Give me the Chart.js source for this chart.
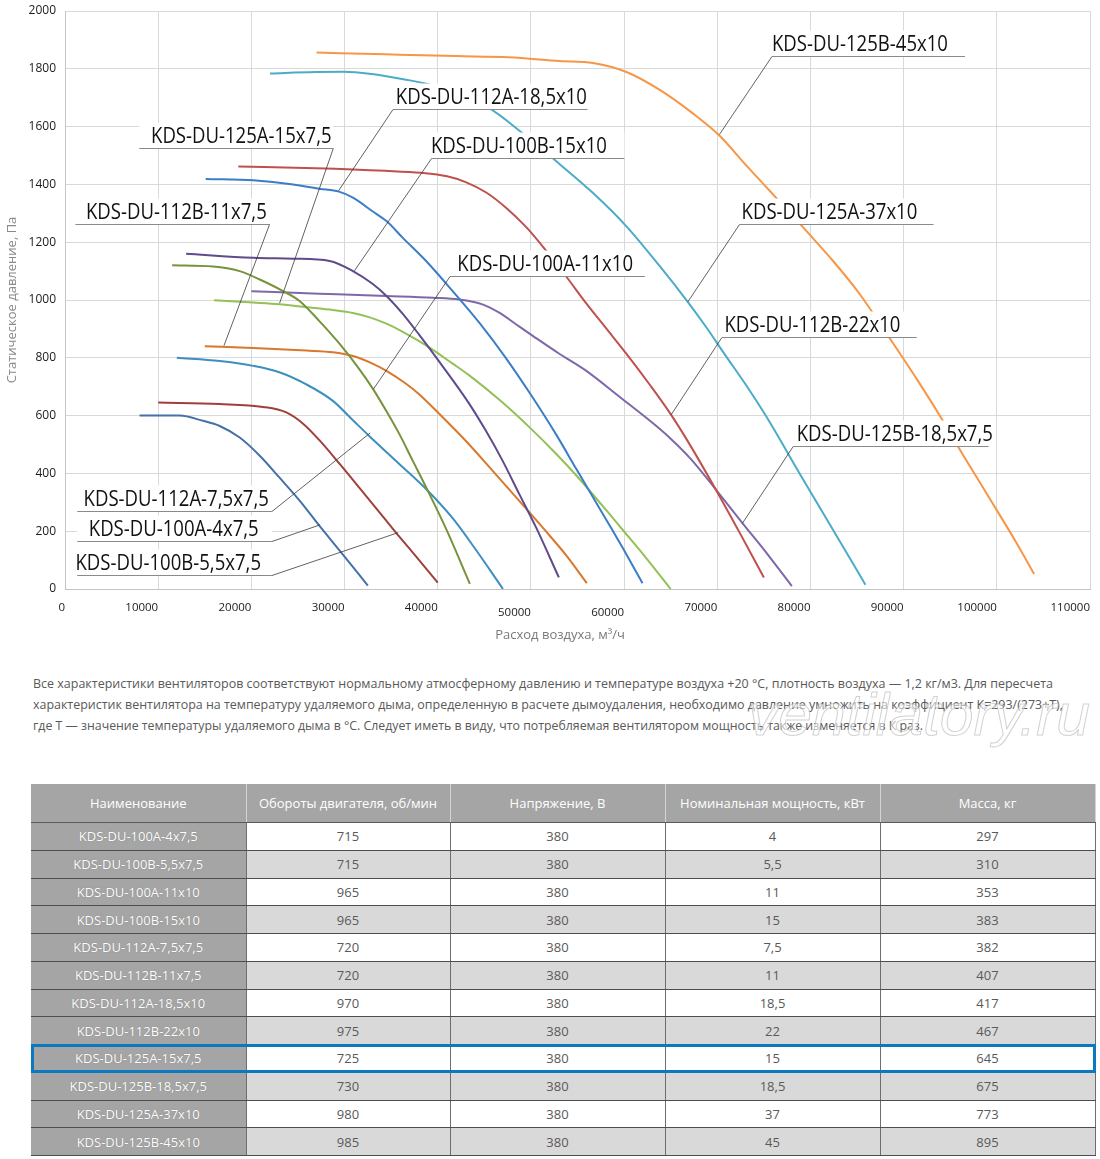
<!DOCTYPE html>
<html lang="ru">
<head>
<meta charset="utf-8">
<title>KDS-DU</title>
<script src="https://cdn.jsdelivr.net/npm/chart.js@4.4.1/dist/chart.umd.min.js"></script>
<style>
  html, body { margin: 0; padding: 0; background: #fff; }
  body { width: 1100px; height: 1159px; position: relative; overflow: hidden; font-family: "Open Sans", sans-serif; }
  #chart { position: absolute; left: 0; top: 0; }
  .note { position: absolute; left: 33px; display: inline-block; white-space: nowrap; font-size: 13px; line-height: 20px; color: #595959; transform-origin: 0 50%; }
  #mark { position: absolute; left: 748px; top: 685px; display: inline-block; white-space: nowrap; font: italic 60px/60px "Liberation Sans", sans-serif;
          color: rgba(255,255,255,0.55); -webkit-text-stroke: 1px rgba(165,165,165,0.5); transform-origin: 0 50%; }
  #specs { position: absolute; left: 31px; top: 784px; width: 1064px; border-collapse: collapse; table-layout: fixed; font-size: 13px; }
  #specs th { height: 38px; padding: 0; background: #a5a5a5; color: #fff; font-weight: 400; border-right: 1px solid #d4d4d4; border-bottom: 1px solid #5a5a5a; }
  #specs td { padding: 0; text-align: center; color: #595959; background: #fff; border-bottom: 1px solid #4d4d4d; border-right: 1px solid #6e6e6e; }
  #specs tr { height: 27.75px; }
  #specs tr.alt td { background: #d9d9d9; }
  #specs tr td.name, #specs tr.alt td.name { background: #a5a5a5; color: #fff; text-shadow: 0 0 1px rgba(0,0,0,0.3); }
  #hl { position: absolute; box-sizing: border-box; border: 3px solid #0b78c0; }
</style>
</head>
<body>
<canvas id="chart" width="1100" height="650"></canvas>

<div class="note" style="top:673px" data-w="1020">Все характеристики вентиляторов соответствуют нормальному атмосферному давлению и температуре воздуха +20 °С, плотность воздуха — 1,2 кг/м3. Для пересчета</div>
<div class="note" style="top:694px" data-w="1030">характеристик вентилятора на температуру удаляемого дыма, определенную в расчете дымоудаления, необходимо давление умножить на коэффициент К=293/(273+Т),</div>
<div class="note" style="top:715px" data-w="890">где Т — значение температуры удаляемого дыма в °С. Следует иметь в виду, что потребляемая вентилятором мощность также изменяется в К раз.</div>
<div id="mark">ventilatory.ru</div>

<table id="specs"></table>
<div id="hl"></div>

<script>
// models, same order as the table
const models = [
  'KDS-DU-100A-4x7,5', 'KDS-DU-100B-5,5x7,5', 'KDS-DU-100A-11x10', 'KDS-DU-100B-15x10',
  'KDS-DU-112A-7,5x7,5', 'KDS-DU-112B-11x7,5', 'KDS-DU-112A-18,5x10', 'KDS-DU-112B-22x10',
  'KDS-DU-125A-15x7,5', 'KDS-DU-125B-18,5x7,5', 'KDS-DU-125A-37x10', 'KDS-DU-125B-45x10'
];

// fan curves: air flow (m3/h) and static pressure (Pa)
const flow100A4 = [8000, 12300, 14800, 16600, 18750, 20900, 23000, 25200, 27250, 29500, 32500];
const pres100A4 = [600, 600, 582, 564, 524, 461, 386, 305, 221, 132, 12];

const flow100B55 = [10000, 16600, 21250, 23750, 25550, 27300, 29500, 31600, 33750, 35600, 38000, 40000];
const pres100B55 = [645, 640, 630, 611, 572, 515, 432, 350, 265, 192, 100, 22];

const flow100A11 = [11500, 15900, 18750, 20900, 23400, 25200, 27300, 29500, 31600, 33100, 34500, 35900, 37300, 38750, 40900, 43450];
const pres100A11 = [1120, 1116, 1100, 1071, 1031, 996, 927, 847, 760, 690, 615, 535, 445, 352, 208, 18];

const flow100B15 = [13000, 20200, 24500, 28400, 30900, 33000, 34500, 36250, 38000, 40200, 43300, 45140, 46940, 48740, 50540, 53000];
const pres100B15 = [1160, 1146, 1143, 1135, 1100, 1056, 1014, 952, 880, 785, 645, 549, 445, 329, 214, 40];

const flow112A75 = [12000, 16600, 20200, 23000, 25900, 28750, 30900, 32700, 35900, 38750, 41600, 44000, 47000];
const pres112A75 = [800, 789, 772, 750, 708, 651, 584, 528, 432, 346, 245, 140, 0];

const flow112B11 = [15000, 20200, 25900, 28750, 30900, 33000, 34500, 36600, 38000, 40200, 43000, 45900, 48750, 51600, 53750, 56000];
const pres112B11 = [840, 834, 825, 819, 806, 780, 755, 710, 674, 605, 513, 409, 305, 200, 118, 20];

const flow112A185 = [15100, 20200, 24500, 27300, 29400, 30900, 33000, 34500, 36250, 38750, 41600, 44500, 47300, 50000, 52700, 54860, 56650, 58450, 60000, 61980];
const pres112A185 = [1419, 1414, 1400, 1385, 1375, 1354, 1307, 1273, 1215, 1135, 1031, 920, 800, 672, 535, 416, 318, 220, 134, 20];

const flow112B22 = [18600, 26900, 34400, 38200, 41000, 43000, 45200, 47300, 49500, 51600, 53750, 55900, 58000, 60300, 62800, 65000, 67100, 70000, 72400, 75000];
const pres112B22 = [1462, 1456, 1447, 1440, 1428, 1408, 1372, 1320, 1252, 1172, 1083, 990, 905, 812, 705, 605, 497, 335, 195, 40];

const flow125A15 = [16000, 20200, 23000, 25900, 28750, 30900, 32700, 34500, 36250, 38750, 41600, 43350, 46900, 50000, 52700, 54900, 56650, 58450, 60000, 62050, 65000];
const pres125A15 = [999, 991, 985, 975, 965, 955, 940, 918, 890, 843, 780, 740, 647, 555, 468, 392, 327, 259, 199, 120, 0];

const flow125B185 = [20000, 27300, 34500, 39500, 42300, 44800, 46600, 48400, 50200, 53000, 55800, 59700, 63300, 65000, 67100, 70000, 72700, 75400, 78000];
const pres125B185 = [1030, 1022, 1014, 1008, 1002, 985, 956, 916, 876, 815, 758, 660, 568, 520, 452, 338, 228, 120, 10];

const flow125A37 = [22000, 26900, 29900, 32900, 36300, 39300, 45350, 49100, 53090, 56670, 60250, 63830, 66870, 68840, 70800, 73100, 75200, 78830, 82510, 85900];
const pres125A37 = [1784, 1789, 1790, 1782, 1764, 1744, 1667, 1577, 1470, 1370, 1255, 1117, 992, 905, 812, 705, 600, 400, 200, 15];

const flow125B45 = [27000, 34400, 42000, 47600, 53090, 56670, 60250, 63830, 67410, 70200, 73130, 75990, 77420, 79750, 82430, 85300, 88500, 91500, 94200, 95700, 99100, 102100, 104000];
const pres125B45 = [1856, 1850, 1844, 1840, 1827, 1820, 1789, 1727, 1645, 1570, 1465, 1365, 1315, 1232, 1135, 1020, 868, 722, 583, 500, 320, 160, 52];

const flows = [flow100A4, flow100B55, flow100A11, flow100B15, flow112A75, flow112B11, flow112A185, flow112B22, flow125A15, flow125B185, flow125A37, flow125B45];
const pressures = [pres100A4, pres100B55, pres100A11, pres100B15, pres112A75, pres112B11, pres112A185, pres112B22, pres125A15, pres125B185, pres125A37, pres125B45];

// table columns
const rpm = [715, 715, 965, 965, 720, 720, 970, 975, 725, 730, 980, 985];
const voltage = [380, 380, 380, 380, 380, 380, 380, 380, 380, 380, 380, 380];
const power = ['4', '5,5', '11', '15', '7,5', '11', '18,5', '22', '15', '18,5', '37', '45'];
const mass = [297, 310, 353, 383, 382, 407, 417, 467, 645, 675, 773, 895];
const headers = ['Наименование', 'Обороты двигателя, об/мин', 'Напряжение, В', 'Номинальная мощность, кВт', 'Масса, кг'];
const highlighted = 8;

const colors = ['#4671a8', '#a0403b', '#77933c', '#5f4b8b', '#3c8fbf', '#d9782d',
                '#3b7dc6', '#c0504d', '#93c155', '#7e68a8', '#4bacc6', '#f79646'];

// callout labels, in data units: text start, underline level and span, point on the curve
const callouts = [
  { m: 11, tx: 75870, uy: 1845, x1: 75870, x2: 96590, from: 'left',  px: 70240, py: 1573 },
  { m: 6,  tx: 35500, uy: 1661, x1: 35200, x2: 56070, from: 'left',  px: 29360, py: 1378 },
  { m: 8,  tx: 9230,  uy: 1527, x1: 7970,  x2: 28790, from: 'right', px: 23030, py: 989 },
  { m: 3,  tx: 39270, uy: 1491, x1: 39340, x2: 60030, from: 'left',  px: 31060, py: 1101 },
  { m: 5,  tx: 2250,  uy: 1263, x1: 1120,  x2: 21950, from: 'right', px: 17060, py: 842 },
  { m: 2,  tx: 42100, uy: 1083, x1: 41320, x2: 62240, from: 'left',  px: 33090, py: 691 },
  { m: 10, tx: 72610, uy: 1262, x1: 72390, x2: 93210, from: 'left',  px: 66850, py: 994 },
  { m: 7,  tx: 70770, uy: 873,  x1: 70500, x2: 91400, from: 'left',  px: 65030, py: 602 },
  { m: 9,  tx: 78520, uy: 496,  x1: 78150, x2: 99120, from: 'left',  px: 72690, py: 227 },
  { m: 4,  tx: 1990,  uy: 271,  x1: 1310,  x2: 22210, from: 'right', px: 32750, py: 540 },
  { m: 0,  tx: 2550,  uy: 167,  x1: 1310,  x2: 22210, from: 'right', px: 27370, py: 222 },
  { m: 1,  tx: 1120,  uy: 48,   x1: 1310,  x2: 22210, from: 'right', px: 35760, py: 195 }
];

const calloutPlugin = {
  id: 'callouts',
  afterDatasetsDraw(chart) {
    const { ctx, scales: { x, y } } = chart;
    ctx.save();
    ctx.font = '21px "Open Sans"';
    const squeeze = 176 / ctx.measureText('KDS-DU-125B-45x10').width;
    const items = callouts.map(c => ({
      text: models[c.m],
      tx: x.getPixelForValue(c.tx),
      uy: Math.round(y.getPixelForValue(c.uy)) + 0.5,
      x1: x.getPixelForValue(c.x1),
      x2: x.getPixelForValue(c.x2),
      from: c.from,
      px: x.getPixelForValue(c.px),
      py: y.getPixelForValue(c.py)
    }));

    // white boxes hide the grid and the curves behind the labels
    ctx.fillStyle = '#fff';
    items.forEach(it => {
      const left = Math.min(it.x1, it.tx);
      ctx.fillRect(left, it.uy - 26, it.x2 - left, 26);
    });

    ctx.fillStyle = '#111';
    ctx.textBaseline = 'alphabetic';
    items.forEach(it => {
      ctx.save();
      ctx.translate(it.tx, it.uy - 5.5);
      ctx.scale(squeeze, 1);
      ctx.fillText(it.text, 0, 0);
      ctx.restore();
    });

    ctx.strokeStyle = '#8a8a8a';
    ctx.lineWidth = 1;
    items.forEach(it => {
      ctx.beginPath();
      ctx.moveTo(it.x1, it.uy);
      ctx.lineTo(it.x2, it.uy);
      ctx.stroke();
    });

    ctx.strokeStyle = '#3a3a3a';
    ctx.lineWidth = 0.8;
    items.forEach(it => {
      ctx.beginPath();
      ctx.moveTo(it.from === 'left' ? it.x1 : it.x2, it.uy);
      ctx.lineTo(it.px, it.py);
      ctx.stroke();
    });

    // x axis title
    const area = chart.chartArea;
    ctx.fillStyle = '#7a7a7a';
    ctx.font = '13px "Open Sans"';
    ctx.textAlign = 'center';
    ctx.textBaseline = 'middle';
    ctx.fillText('Расход воздуха, м³/ч', area.left + (area.right - area.left) * 0.483, area.bottom + 46);
    ctx.restore();
  }
};

const datasets = models.map((name, i) => ({
  label: name,
  data: flows[i].map((q, j) => ({ x: q, y: pressures[i][j] })),
  borderColor: colors[i],
  borderWidth: 2,
  pointRadius: 0,
  cubicInterpolationMode: 'monotone',
  fill: false
}));

const config = {
  type: 'line',
  data: { datasets },
  plugins: [calloutPlugin],
  options: {
    responsive: false,
    animation: false,
    layout: { padding: { top: 11, right: 10, left: 0, bottom: 0 } },
    plugins: { legend: { display: false }, tooltip: { enabled: false } },
    scales: {
      x: {
        type: 'linear',
        min: 0,
        max: 110000,
        afterFit: s => { s.height = 61; s.paddingLeft = 0; s.paddingRight = 0; },
        grid: { color: '#d9d9d9', drawTicks: false },
        border: { color: '#c4c4c4' },
        ticks: {
          stepSize: 10000,
          align: 'end',
          padding: 12,
          maxRotation: 0,
          autoSkip: false,
          color: '#1a1a1a',
          font: ctx => ({
            family: '"Open Sans"',
            size: 11.5,
            lineHeight: (ctx.tick && (ctx.tick.value === 50000 || ctx.tick.value === 60000)) ? 2.07 : 1.2
          }),
          callback: v => String(v)
        }
      },
      y: {
        min: 0,
        max: 2000,
        afterFit: s => { s.width = 65; s.paddingTop = 0; s.paddingBottom = 0; },
        grid: { color: '#d9d9d9', drawTicks: false },
        border: { color: '#c4c4c4' },
        ticks: {
          stepSize: 200,
          padding: 9,
          color: '#1a1a1a',
          font: { family: '"Open Sans"', size: 12 },
          callback: v => String(v)
        },
        title: {
          display: true,
          text: 'Статическое давление, Па',
          color: '#8a8a8a',
          font: { family: '"Open Sans"', size: 13 }
        }
      }
    }
  }
};

const myChart = new Chart(document.getElementById('chart'), config);

// table
const table = document.getElementById('specs');
const colWidths = [215, 204, 215, 215, 215];
let html = '<colgroup>' + colWidths.map(w => '<col style="width:' + w + 'px">').join('') + '</colgroup>';
html += '<tr>' + headers.map(h => '<th>' + h + '</th>').join('') + '</tr>';
models.forEach((name, i) => {
  html += '<tr' + (i % 2 === 1 ? ' class="alt"' : '') + '>' +
    '<td class="name">' + name + '</td><td>' + rpm[i] + '</td><td>' + voltage[i] +
    '</td><td>' + power[i] + '</td><td>' + mass[i] + '</td></tr>';
});
table.innerHTML = html;

// highlighted row frame
const tRect = table.getBoundingClientRect();
const rRect = table.rows[highlighted + 1].getBoundingClientRect();
const hl = document.getElementById('hl');
hl.style.left = tRect.left + 'px';
hl.style.top = (rRect.top - 1) + 'px';
hl.style.width = tRect.width + 'px';
hl.style.height = (rRect.height + 2) + 'px';

// fit the note lines and the watermark to their widths
document.querySelectorAll('.note').forEach(el => {
  const w = el.getBoundingClientRect().width;
  el.style.transform = 'scaleX(' + (Number(el.dataset.w) / w) + ')';
});
const mark = document.getElementById('mark');
mark.style.transform = 'scaleX(' + (342 / mark.getBoundingClientRect().width) + ')';
</script>
</body>
</html>
